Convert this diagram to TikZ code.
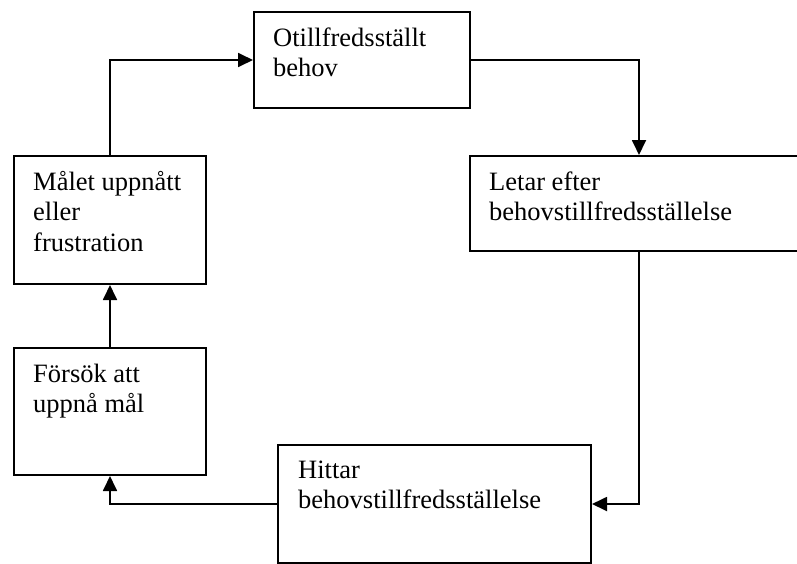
\documentclass[tikz,border=0pt]{standalone}
\usepackage{fontspec}
\setmainfont{Liberation Serif}
\usetikzlibrary{arrows.meta,calc}
\begin{document}
\begin{tikzpicture}[x=1pt,y=-1pt,
  box/.style={draw,line width=2pt,rectangle,inner sep=0pt,anchor=north west},
  txt/.style={inner sep=0pt,anchor=base west,align=left,font=\fontsize{26.5}{30.5}\selectfont},
  conn/.style={line width=1.8pt,-{Triangle[length=15pt,width=14pt]}}]
\useasboundingbox (0,0) rectangle (797,563);
\clip (0,0) rectangle (797,563);
\node[box,minimum width=216pt,minimum height=96pt] (otill) at (253,11) {};
\node[box,minimum width=338pt,minimum height=95pt] (letar) at (469,155) {};
\node[box,minimum width=313pt,minimum height=118pt] (hittar) at (277,444) {};
\node[box,minimum width=192pt,minimum height=127pt] (forsok) at (13,347) {};
\node[box,minimum width=192pt,minimum height=128pt] (malet) at (13,155) {};
% base anchor of a multi-line node is the baseline of its last line
\node[txt] (totill) at ($(otill.north west)+(20,65.5)$) {Otillfredsställt\\behov};
\node[txt] (tletar) at ($(letar.north west)+(20,65.5)$) {Letar efter\\behovstillfredsställelse};
\node[txt] (thittar) at ($(hittar.north west)+(21,64.5)$) {Hittar\\behovstillfredsställelse};
\node[txt] (tforsok) at ($(forsok.north west)+(20,65.5)$) {Försök att\\uppnå mål};
\node[txt] (tmalet) at ($(malet.north west)+(20,96)$) {Målet uppnått\\eller\\frustration};
\draw[conn] (malet.north) |- (otill.west);
\draw[conn] (otill.east) -| (letar.north);
\draw[conn] (letar.south) |- (hittar.east);
\draw[conn] (hittar.west) -| (forsok.south);
\draw[conn] (forsok.north) -- (malet.south);
\end{tikzpicture}
\end{document}
